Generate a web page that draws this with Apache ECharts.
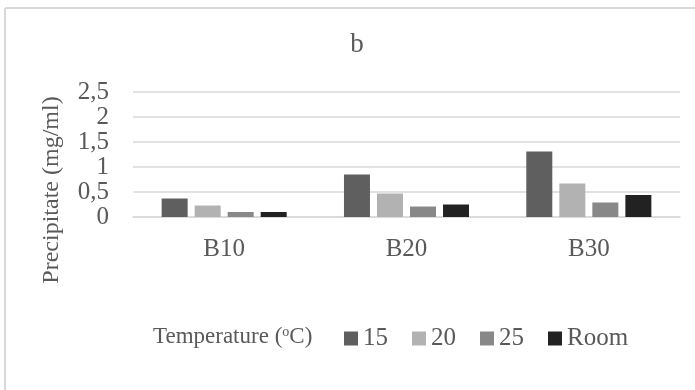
<!DOCTYPE html>
<html>
<head>
<meta charset="utf-8">
<script src="https://cdn.jsdelivr.net/npm/echarts@6/dist/echarts.min.js"></script>
<style>
    html, body { margin: 0; padding: 0; background: #fff; }
    #chart { width: 695px; height: 390px; }
</style>
</head>
<body>
<div id="chart"></div>
<script>
    // data
    var categories = ['B10', 'B20', 'B30']
    var seriesNames = ['15', '20', '25', 'Room']
    var t15 = [0.37, 0.85, 1.31]
    var t20 = [0.23, 0.47, 0.67]
    var t25 = [0.10, 0.21, 0.29]
    var tRoom = [0.10, 0.25, 0.44]
    var barColors = ['#5f5f5f', '#b2b2b2', '#888888', '#222222']

    var font = 'Liberation Serif'
    var textColor = '#595959'

    var myChart = echarts.init(document.getElementById('chart'))

    function bar(name, data, color) {
        return {
            name: name,
            type: 'bar',
            data: data,
            barWidth: 26,
            barGap: '27%',
            itemStyle: { color: color }
        }
    }

    var options = {
        animation: false,
        textStyle: { fontFamily: font },
        grid: {
            left: 133,
            right: 15,
            top: 92,
            bottom: 173
        },
        legend: {
            data: seriesNames,
            left: 344,
            top: 326,
            padding: 0,
            icon: 'rect',
            itemWidth: 14,
            itemHeight: 14,
            itemGap: 24,
            textStyle: {
                fontFamily: font,
                fontSize: 25,
                color: textColor
            }
        },
        xAxis: {
            type: 'category',
            data: categories,
            axisLine: { lineStyle: { color: '#d9d9d9', width: 1.5 } },
            axisTick: { show: false },
            axisLabel: {
                margin: 20,
                fontFamily: font,
                fontSize: 25,
                color: textColor
            }
        },
        yAxis: {
            type: 'value',
            min: 0,
            max: 2.5,
            interval: 0.5,
            axisLine: { show: false },
            axisTick: { show: false },
            axisLabel: {
                margin: 24,
                fontFamily: font,
                fontSize: 25,
                color: textColor,
                showMinLabel: true,
                showMaxLabel: true,
                hideOverlap: false,
                formatter: function (v) { return String(v).replace('.', ',') }
            },
            splitLine: { lineStyle: { color: '#d9d9d9', width: 1.5 } }
        },
        graphic: [
            // outer frame (only top/left edges are visible)
            { type: 'line', shape: { x1: 5, y1: 8, x2: 695, y2: 8 }, style: { stroke: '#d9d9d9', lineWidth: 2 } },
            { type: 'line', shape: { x1: 5, y1: 8, x2: 5, y2: 390 }, style: { stroke: '#d9d9d9', lineWidth: 2 } },
            {
                type: 'text', x: 357, y: 45,
                style: { text: 'b', font: '27px ' + font, fill: textColor, textAlign: 'center', textVerticalAlign: 'middle' }
            },
            {
                type: 'text', x: 52, y: 190, rotation: Math.PI / 2,
                style: { text: 'Precipitate (mg/ml)', font: '24px ' + font, fill: textColor, textAlign: 'center', textVerticalAlign: 'middle' }
            },
            {
                type: 'text', x: 153, y: 337,
                style: {
                    text: 'Temperature ({s|o}C)',
                    font: '23px ' + font,
                    fill: textColor,
                    textVerticalAlign: 'middle',
                    rich: {
                        s: { fontSize: 14, fontFamily: font, fill: textColor, verticalAlign: 'top', padding: [0, 0, 9, 0] }
                    }
                }
            }
        ],
        series: [
            bar(seriesNames[0], t15, barColors[0]),
            bar(seriesNames[1], t20, barColors[1]),
            bar(seriesNames[2], t25, barColors[2]),
            bar(seriesNames[3], tRoom, barColors[3])
        ]
    }
    myChart.setOption(options)
</script>
</body>
</html>
